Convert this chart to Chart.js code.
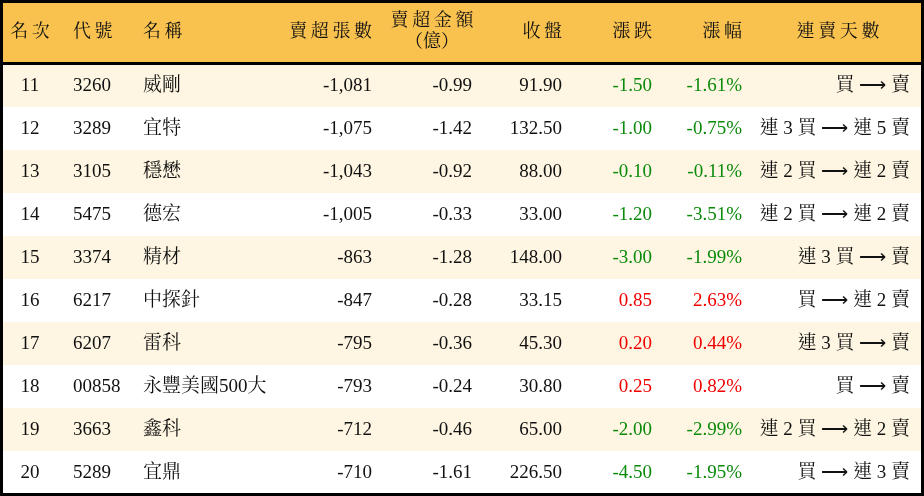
<!DOCTYPE html>
<html><head><meta charset="utf-8">
<script src="https://cdn.jsdelivr.net/npm/chart.js@4.4.1/dist/chart.umd.min.js"></script>
<style>html,body{margin:0;padding:0;background:#fff}#w{width:924px;height:496px}</style>
</head><body><div id="w"><canvas id="c"></canvas></div>
<script>
const headers = ['名次','代號','名稱','賣超張數','賣超金額\n（億）','收盤','漲跌','漲幅','連賣天數'];
const ranks = ['11','12','13','14','15','16','17','18','19','20'];
const codes = ['3260','3289','3105','5475','3374','6217','6207','00858','3663','5289'];
const names = ['威剛','宜特','穩懋','德宏','精材','中探針','雷科','永豐美國500大','鑫科','宜鼎'];
const netSheets = ['-1,081','-1,075','-1,043','-1,005','-863','-847','-795','-793','-712','-710'];
const netAmount = ['-0.99','-1.42','-0.92','-0.33','-1.28','-0.28','-0.36','-0.24','-0.46','-1.61'];
const closes = ['91.90','132.50','88.00','33.00','148.00','33.15','45.30','30.80','65.00','226.50'];
const changes = ['-1.50','-1.00','-0.10','-1.20','-3.00','0.85','0.20','0.25','-2.00','-4.50'];
const pcts = ['-1.61%','-0.75%','-0.11%','-3.51%','-1.99%','2.63%','0.44%','0.82%','-2.99%','-1.95%'];
const streaks = ['買 ⟶ 賣','連 3 買 ⟶ 連 5 賣','連 2 買 ⟶ 連 2 賣','連 2 買 ⟶ 連 2 賣','連 3 買 ⟶ 賣','買 ⟶ 連 2 賣','連 3 買 ⟶ 賣','買 ⟶ 賣','連 2 買 ⟶ 連 2 賣','買 ⟶ 連 3 賣'];

const colX = [30, 73, 143, 372, 472, 562, 652, 742, 910];
const colAlign = ['center','left','left','right','right','right','right','right','right'];
const hdrX = [30, 73, 143, 372, 432, 562, 652, 742, 838];
const hdrAlign = ['center','left','left','right','center','right','right','right','center'];
const HDR = 64/43;

const FONT = '"Liberation Serif","Noto Serif CJK TC","Noto Sans CJK TC",serif';
const tablePlugin = {
  id:'table',
  beforeDatasetsDraw(chart){
    const ctx = chart.ctx, xs = chart.scales.x, ys = chart.scales.y;
    const px = v => xs.getPixelForValue(v), py = v => ys.getPixelForValue(v);
    ctx.save();
    ctx.fillStyle = '#F9C24F';
    ctx.fillRect(px(0), py(0), px(924)-px(0), py(HDR)-py(0));
    ranks.forEach((r,i)=>{
      ctx.fillStyle = i%2===0 ? '#FEF6E2' : '#FFFFFF';
      ctx.fillRect(px(0), py(HDR+i), px(924)-px(0), py(HDR+i+1)-py(HDR+i));
    });
    ctx.fillStyle='#000';
    ctx.fillRect(px(0), py(HDR)-2, px(924)-px(0), 3);
    ctx.lineWidth=3; ctx.strokeStyle='#000';
    ctx.strokeRect(px(0)+1.5, py(0)+1.5, px(924)-px(0)-3, 493);
    ctx.textBaseline='middle';
    ctx.font = '18px '+FONT;
    const sp = s => s.split('').join('\u2009');
    headers.forEach((h,j)=>{
      ctx.textAlign = hdrAlign[j]; ctx.fillStyle='#111';
      const lines = h.split('\n');
      if(lines.length===1) ctx.fillText(sp(h), px(hdrX[j]), py(HDR/2));
      else { ctx.fillText(sp(lines[0]), px(hdrX[j]), py(HDR/2)-11); ctx.fillText(lines[1], px(hdrX[j]), py(HDR/2)+10); }
    });
    ctx.font = '19px '+FONT;
    ranks.forEach((r,i)=>{
      const y = py(HDR+i+0.5)+1;
      const cells=[r,codes[i],names[i],netSheets[i],netAmount[i],closes[i],changes[i],pcts[i],streaks[i]];
      const col = changes[i].startsWith('-') ? '#0A8A0A' : '#F00000';
      cells.forEach((t,j)=>{
        ctx.textAlign=colAlign[j];
        ctx.fillStyle = (j===6||j===7) ? col : '#111';
        ctx.fillText(t, px(colX[j]), y);
      });
    });
    ctx.restore();
  }
};
new Chart(document.getElementById('c'),{
  type:'scatter',
  data:{datasets:[{data:[],pointRadius:0}]},
  options:{responsive:true,maintainAspectRatio:false,animation:false,
    layout:{padding:0},
    plugins:{legend:{display:false},tooltip:{enabled:false}},
    scales:{x:{type:'linear',min:0,max:924,display:false},
            y:{type:'linear',min:0,max:496/43,reverse:true,display:false}}},
  plugins:[tablePlugin]
});
</script></body></html>
